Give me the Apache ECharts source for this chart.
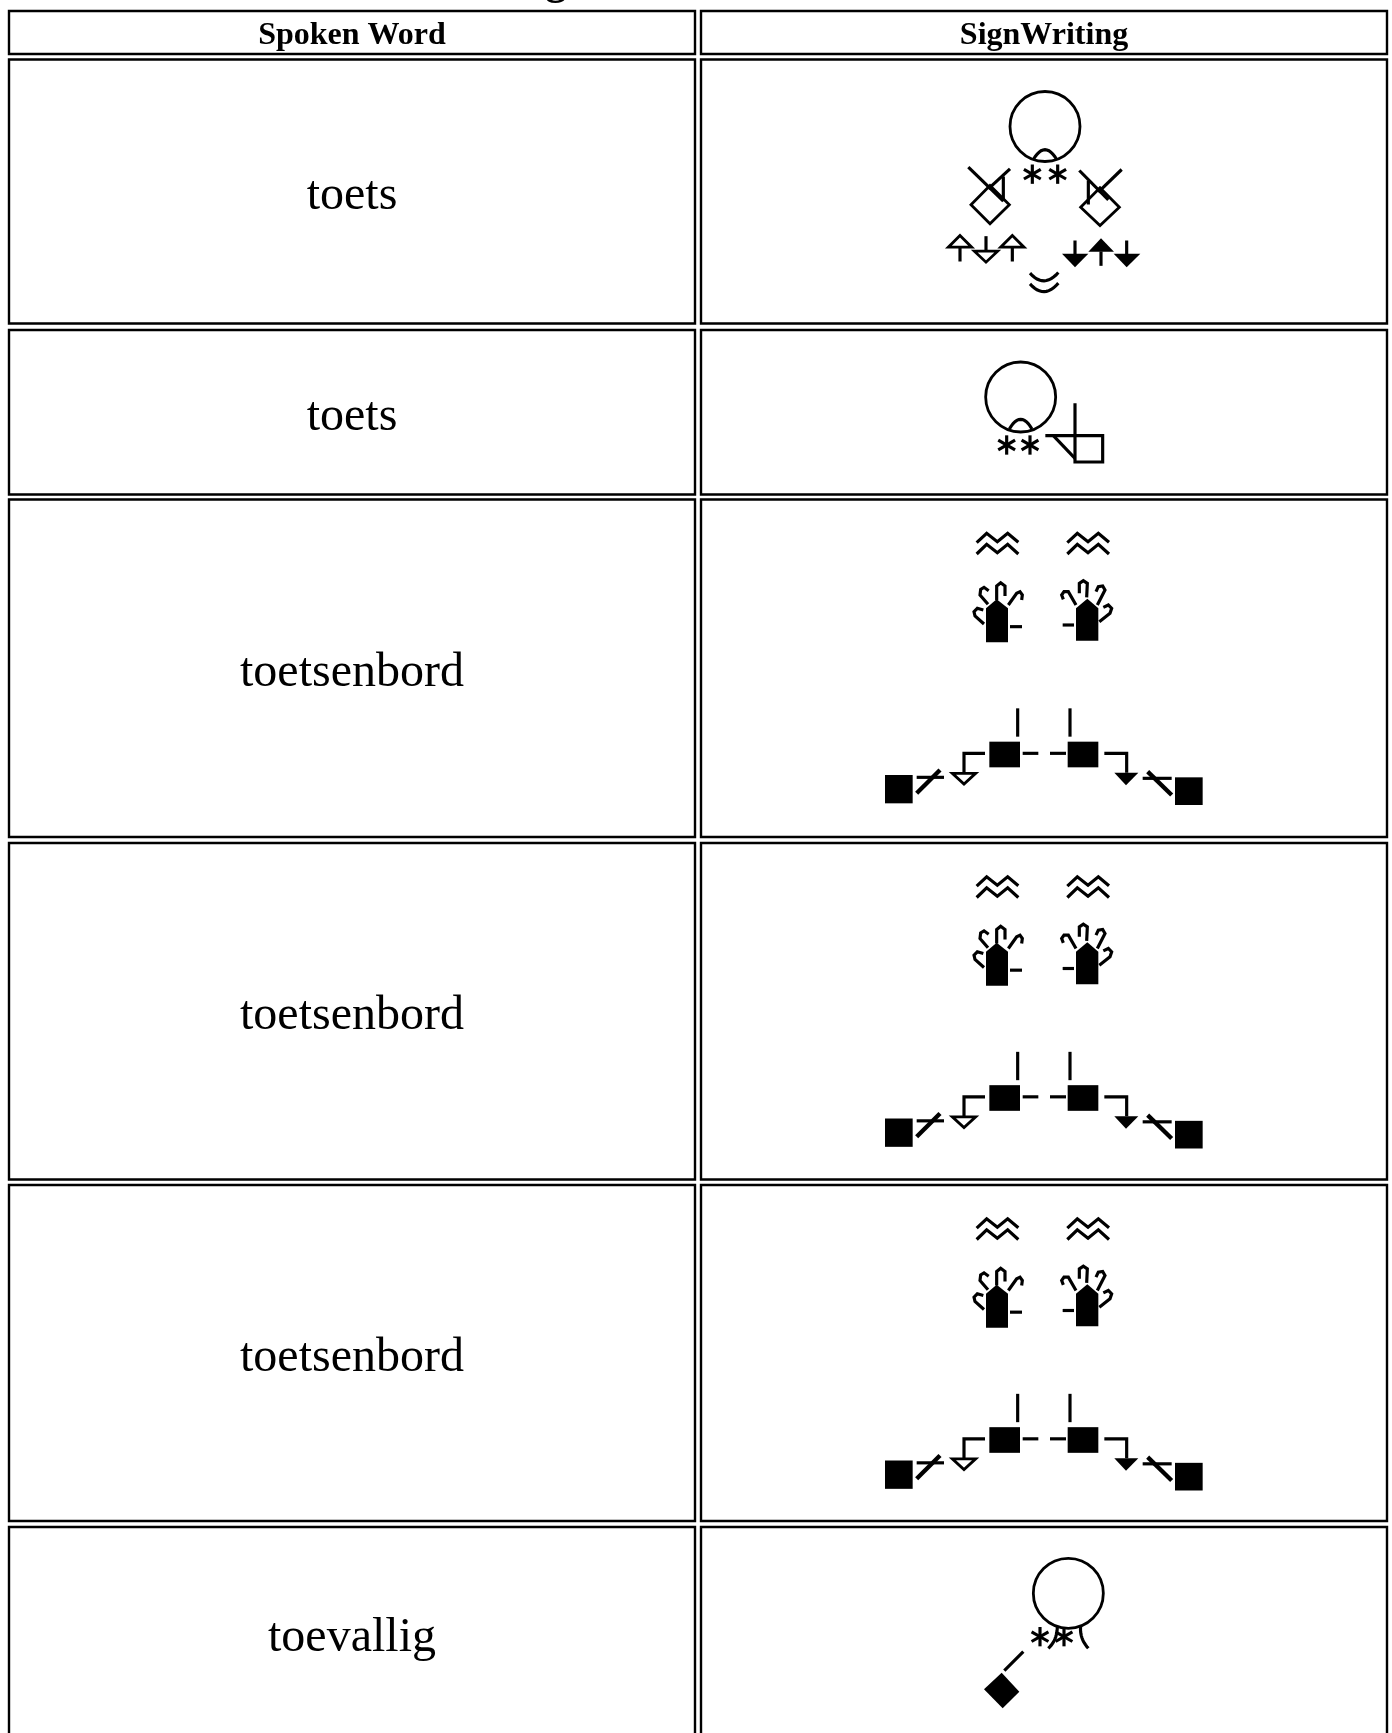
<!DOCTYPE html>
<html>
<head>
<meta charset="utf-8">
<title>Spoken Word / SignWriting</title>
<script src="https://cdn.jsdelivr.net/npm/echarts@6/dist/echarts.min.js"></script>
<style>
	html, body { margin: 0; padding: 0; background: #fff; }
	#main { width: 1392px; height: 1733px; }
</style>
</head>
<body>
<div id="main"></div>
<script>
	// table content
	var columnTitles = ['Spoken Word', 'SignWriting'];
	var spokenWords = ['toets', 'toets', 'toetsenbord', 'toetsenbord', 'toetsenbord', 'toevallig'];
	var signNames = ['head-hands', 'head-hand', 'keyboard', 'keyboard', 'keyboard', 'head-diamond'];

	// table edges on the page axes
	var columnLeft = [9, 701];
	var columnRight = [695, 1387];
	var rowTop = [59.5, 330, 499.5, 843, 1185, 1527];
	var rowBottom = [323.5, 494.5, 837, 1179.5, 1521, 1760];
	var headTop = 11;
	var headBottom = 54;

	// glyph helpers, glyph units are thirds of a pixel
	function line(pts) { return { kind: 'line', pts: pts, width: 9.5 }; }
	function thick(pts) { return { kind: 'line', pts: pts, width: 13 }; }
	function solid(pts) { return { kind: 'solid', pts: pts }; }
	function hollow(pts) { return { kind: 'hollow', pts: pts }; }
	function ring(x, y, r) { return { kind: 'ring', x: x, y: y, r: r }; }

	function curve(a, c, b) {
		var pts = [];
		for (var i = 0; i <= 12; i++) {
			var t = i / 12, u = 1 - t;
			pts.push([u * u * a[0] + 2 * u * t * c[0] + t * t * b[0], u * u * a[1] + 2 * u * t * c[1] + t * t * b[1]]);
		}
		return line(pts);
	}

	function star(x, y, r) {
		var dx = r * 0.87, dy = r * 0.5;
		return [
			line([[x, y - r], [x, y + r]]),
			line([[x - dx, y - dy], [x + dx, y + dy]]),
			line([[x - dx, y + dy], [x + dx, y - dy]])
		];
	}

	function zigzag(x, y) {
		return [
			line([[x, y + 28], [x + 30, y], [x + 62, y + 25], [x + 93, y], [x + 125, y + 27]]),
			line([[x, y + 62], [x + 30, y + 33], [x + 62, y + 58], [x + 93, y + 33], [x + 125, y + 62]])
		];
	}

	function glyphHeadHands() {
		return [
			ring(375, 168, 105),
			curve([340, 267], [375, 208], [410, 267])
		].concat(star(337, 311, 29), star(413, 311, 29), [
			hollow([[210, 345], [268, 403], [210, 460], [153, 403]]),
			line([[145, 290], [250, 392]]),
			line([[270, 295], [205, 355]]),
			line([[250, 318], [250, 392]]),
			hollow([[540, 352], [598, 410], [540, 465], [482, 410]]),
			line([[605, 297], [535, 365]]),
			line([[478, 300], [565, 388]]),
			line([[505, 330], [505, 402]]),
			line([[120, 530], [120, 573]]),
			hollow([[120, 495], [155, 530], [85, 530]]),
			line([[198, 497], [198, 542]]),
			hollow([[163, 542], [233, 542], [198, 575]]),
			line([[277, 530], [277, 573]]),
			hollow([[277, 495], [312, 530], [242, 530]]),
			line([[465, 510], [465, 552]]),
			solid([[426, 550], [505, 550], [465, 590]]),
			line([[543, 543], [543, 586]]),
			solid([[543, 503], [582, 544], [505, 544]]),
			line([[620, 510], [620, 552]]),
			solid([[581, 550], [661, 550], [620, 590]]),
			curve([330, 608], [372, 655], [415, 606]),
			curve([330, 640], [372, 688], [415, 638])
		]);
	}

	function glyphHeadHand() {
		return [
			ring(182, 141, 105),
			curve([148, 237], [182, 179], [216, 237])
		].concat(star(140, 285, 29), star(210, 285, 29), [
			line([[256, 257], [428, 257], [428, 336], [345, 336], [345, 160]]),
			line([[280, 257], [345, 325]])
		]);
	}

	function glyphKeyboard() {
		return zigzag(50, 70).concat(zigzag(322, 70), [
			// left hand
			solid([[78, 397], [78, 295], [110, 268], [144, 295], [144, 397]]),
			line([[150, 350], [186, 350]]),
			line([[72, 342], [45, 318], [42, 305], [52, 295], [70, 300]]),
			line([[84, 283], [60, 255], [62, 238], [72, 232], [86, 242]]),
			line([[110, 270], [110, 228], [122, 218], [135, 228], [135, 258]]),
			line([[145, 285], [170, 250], [180, 245], [187, 255], [185, 270]]),
			// right hand
			solid([[348, 392], [348, 295], [382, 266], [415, 295], [415, 392]]),
			line([[308, 345], [342, 345]]),
			line([[348, 285], [325, 245], [312, 245], [305, 255], [310, 268]]),
			line([[358, 250], [358, 220], [370, 212], [382, 220], [380, 262]]),
			line([[412, 285], [435, 240], [428, 228], [415, 230], [408, 245]]),
			line([[418, 335], [450, 310], [455, 295], [445, 285], [430, 292]])
		], keyboardHands());
	}

	// lower part of the keyboard sign, its crop sits 90px left and 180px below the upper part
	function keyboardHands() {
		function m(list) {
			return list.map(function(p) { return [p[0] - 270, p[1] + 540]; });
		}
		return [
			line(m([[443, 55], [443, 140]])),
			line(m([[600, 55], [600, 140]])),
			solid(m([[358, 155], [450, 155], [450, 232], [358, 232]])),
			solid(m([[593, 155], [685, 155], [685, 232], [593, 232]])),
			solid(m([[45, 255], [128, 255], [128, 340], [45, 340]])),
			solid(m([[915, 262], [998, 262], [998, 345], [915, 345]])),
			line(m([[458, 190], [505, 190]])),
			line(m([[540, 190], [588, 190]])),
			line(m([[345, 190], [282, 190], [282, 248]])),
			hollow(m([[247, 250], [317, 250], [282, 282]])),
			line(m([[703, 190], [770, 190], [770, 248]])),
			solid(m([[733, 248], [805, 248], [768, 286]])),
			line(m([[140, 262], [222, 262]])),
			thick(m([[140, 310], [210, 240]])),
			line(m([[818, 265], [905, 265]])),
			thick(m([[833, 245], [905, 315]]))
		];
	}

	function glyphHeadDiamond() {
		return [
			ring(325, 160, 105)
		].concat(star(240, 290, 29), star(312, 290, 29), [
			curve([292, 258], [292, 300], [265, 325]),
			curve([362, 258], [358, 295], [385, 325]),
			line([[190, 335], [133, 392]]),
			solid([[125, 398], [178, 455], [128, 505], [72, 448]])
		]);
	}

	// offset of the glyph crop from the column centre and the row top, and its shapes
	var signGlyphs = {
		'head-hands': { dx: -124, dy: 11, shapes: glyphHeadHands() },
		'head-hand': { dx: -84, dy: 20, shapes: glyphHeadHand() },
		'keyboard': { dx: -84, dy: 10.5, shapes: glyphKeyboard() },
		'head-diamond': { dx: -84, dy: 13, shapes: glyphHeadDiamond() }
	};

	function drawShape(shape, ox, oy, api) {
		function pt(p) { return api.coord([ox + p[0] / 3, oy + p[1] / 3]); }
		var ink = '#000';
		if (shape.kind === 'ring') {
			var c = pt([shape.x, shape.y]);
			return {
				type: 'circle',
				shape: { cx: c[0], cy: c[1], r: shape.r / 3 },
				style: { fill: 'none', stroke: ink, lineWidth: 2.8 }
			};
		}
		if (shape.kind === 'line') {
			return {
				type: 'polyline',
				shape: { points: shape.pts.map(pt) },
				style: { fill: 'none', stroke: ink, lineWidth: shape.width / 3 }
			};
		}
		return {
			type: 'polygon',
			shape: { points: shape.pts.map(pt) },
			style: shape.kind === 'solid' ? { fill: ink } : { fill: '#fff', stroke: ink, lineWidth: 2.8 }
		};
	}

	function cellRect(x0, y0, x1, y1, api) {
		var a = api.coord([x0, y0]), b = api.coord([x1, y1]);
		return {
			type: 'rect',
			shape: { x: a[0], y: a[1], width: b[0] - a[0], height: b[1] - a[1] },
			style: { fill: '#fff', stroke: '#000', lineWidth: 2.4 }
		};
	}

	function cellText(text, x, y, font, api) {
		var p = api.coord([x, y]);
		return {
			type: 'text',
			style: { text: text, x: p[0], y: p[1], font: font, fill: '#000', align: 'center', verticalAlign: 'middle' }
		};
	}

	function renderCell(params, api) {
		var row = api.value(0), col = api.value(1);
		var x0 = columnLeft[col], x1 = columnRight[col];
		var mid = (x0 + x1) / 2;
		var kids = [];
		if (row < 0) {
			kids.push(cellRect(x0, headTop, x1, headBottom, api));
			kids.push(cellText(columnTitles[col], mid, (headTop + headBottom) / 2 + 3, 'bold 32px "Liberation Serif"', api));
			return { type: 'group', children: kids };
		}
		kids.push(cellRect(x0, rowTop[row], x1, rowBottom[row], api));
		if (col === 0) {
			kids.push(cellText(spokenWords[row], mid, Math.min((rowTop[row] + rowBottom[row]) / 2 + 5, 1638), '48px "Liberation Serif"', api));
		} else {
			var glyph = signGlyphs[signNames[row]];
			glyph.shapes.forEach(function(shape) {
				kids.push(drawShape(shape, mid + glyph.dx, rowTop[row] + glyph.dy, api));
			});
		}
		return { type: 'group', children: kids };
	}

	var cells = [];
	columnTitles.forEach(function(t, col) {
		cells.push([-1, col]);
	});
	spokenWords.forEach(function(word, row) {
		cells.push([row, 0]);
		cells.push([row, 1]);
	});

	var myChart = echarts.init(document.getElementById('main'), null, { renderer: 'canvas' });
	myChart.setOption({
		backgroundColor: '#fff',
		animation: false,
		grid: { left: 0, right: 0, top: 0, bottom: 0 },
		xAxis: { type: 'value', min: 0, max: 1392, show: false },
		yAxis: { type: 'value', min: 0, max: 1733, inverse: true, show: false },
		series: [{
			type: 'custom',
			coordinateSystem: 'cartesian2d',
			clip: false,
			silent: true,
			renderItem: renderCell,
			data: cells
		}, {
			// descender of the page heading, the rest is cut off by the page top
			type: 'custom',
			coordinateSystem: 'cartesian2d',
			clip: false,
			silent: true,
			renderItem: function(params, api) {
				return cellText(api.value(2), api.value(0), api.value(1), 'bold 42px "Liberation Serif"', api);
			},
			data: [[556, -17, 'g']]
		}]
	});
</script>
</body>
</html>
